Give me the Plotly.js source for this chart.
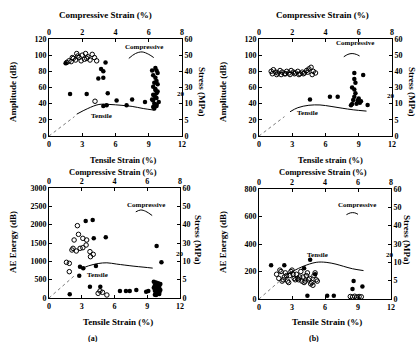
<!DOCTYPE html>
<html><head><meta charset="utf-8">
<script src="https://cdn.plot.ly/plotly-3.0.1.min.js"></script>
<style>html,body{margin:0;padding:0;background:#fff}#c{width:419px;height:342px}</style>
</head><body><div id="c"></div>
<script>
// ---------- data: panel (a) amplitude ----------
const ampA_open_t = [1.6,1.8,2.0,2.2,2.4,2.5,2.7,2.9,3.0,3.2,3.3,3.5,3.7,3.9,4.1,4.3,2.1,2.6,3.4,4.15];
const ampA_open_v = [91,93,92,96,94,102,97,93,100,95,102,98,94,101,97,93,97,99,96,43];
const ampA_fill_t = [1.5,5.1,4.7,4.9,4.45,4.9,1.9,3.4,5.3,4.9,5.2,6.1,7.0,7.5,8.66,
  9.3,9.7,9.6,9.8,9.4,9.7,9.4,9.6,9.7,9.4,9.7,9.3,9.9,9.5,9.7,9.4,9.6,9.8,9.5,9.6,9.8,9.4,9.5,9.7,9.6,9.5];
const ampA_fill_v = [90,91,83,80,71,72,52,52,53,37,38,44,38,45,42,
  81,81,84,78,75,68,61,57,53,51,47,45,42,40,37,36,72,64,50,58,55,44,34,39,48,66];
// ---------- data: panel (b) amplitude ----------
const ampB_open_t = [1.1,1.3,1.5,1.7,1.9,2.1,2.3,2.5,2.7,2.9,3.1,3.3,3.5,3.7,3.9,4.1,4.3,4.5,4.7,4.9,5.1,1.2,1.6,2.0,2.4,2.8,3.2,3.6,4.0,4.4,4.8];
const ampB_open_v = [80,82,79,78,81,79,77,80,78,81,79,78,80,77,79,78,81,83,85,80,78,77,76,76,77,76,77,76,77,79,76];
const ampB_fill_t = [4.6,6.4,7.1,8.6,8.6,8.7,9.4,8.4,8.6,8.7,8.6,8.5,9.0,9.2,8.4,8.8,9.8,8.3,8.9,9.1];
const ampB_fill_v = [45,48.5,48.5,78,70.5,66,75.5,60,57.5,53,48.5,44.5,46.5,43,39.5,40,38.5,38,44,41];
// ---------- data: panel (a) AE energy ----------
const aeA_open_t = [2.6,2.7,2.3,3.1,3.45,3.4,3.1,2.85,2.2,2.1,2.5,1.6,1.86,1.86,3.75,4.05,3.8,4.67,4.9,4.5,5.3];
const aeA_open_v = [1973,1736,1582,1627,1582,1445,1372,1355,1355,1309,1282,973,945,718,1264,1191,1127,191,155,127,82];
const aeA_fill_t = [3.36,4.0,5.2,4.1,2.84,3.14,4.3,2.77,3.75,4.7,1.9,6.5,7.05,7.4,8.9,9.86,10.3,9.1,8.0,
  9.6,9.8,10.0,10.2,9.7,9.9,10.1,9.6,9.8,10.0,10.2,9.7,9.9,10.1,9.8,10.0,9.9,9.7,10.1,9.8];
const aeA_fill_v = [2100,2127,1655,1627,855,809,873,609,309,309,100,191,191,191,173,1418,973,191,218,
  440,420,400,380,350,330,300,280,260,240,220,200,180,160,140,120,100,90,110,80];
// ---------- data: panel (b) AE energy ----------
const aeB_open_t = [1.6,1.8,2.0,2.2,2.4,2.6,2.8,3.0,3.2,3.4,3.6,3.8,4.0,4.2,4.4,4.6,4.8,5.0,5.2,1.9,2.3,2.7,3.1,3.5,3.9,4.3,4.7,5.1,2.1,2.9,3.7,4.5,5.3,2.5,3.3,4.1,4.9,
  8.3,8.5,8.7,8.9,9.1,9.3];
const aeB_open_v = [180,150,200,140,190,130,170,210,150,180,140,200,160,130,190,150,120,170,140,210,160,120,180,150,130,170,110,190,130,200,160,140,130,170,140,120,100,
  18,15,20,14,18,16];
const aeB_fill_t = [1.1,2.3,4.65,4.1,5.1,4.4,6.2,6.8,8.6,9.4,8.5];
const aeB_fill_v = [245,245,286,223,180,24,24,24,131,90,73];
// ---------- stress curves ----------
const leadStrain = [0,0.6,1.2,1.8,2.3];
const leadStress = [0,3,6,9,12];
const tenA1_t = [2.5,3.5,4.5,5.5,6.5,7.5,8.5,9.5];
const tenA1_s = [13.5,17,19.5,19.5,19,18.3,17,16];
const tenB1_t = [2.8,3.5,4.5,5.5,6.5,7.5,8.5,9.7];
const tenB1_s = [15,17.5,19,19.2,18.3,17.2,16.2,15.4];
const tenA2_t = [3.0,3.6,4.5,5.3,6.2,7.7,8.7,9.5];
const tenA2_s = [16,17.5,18.8,19.2,18.5,17.4,16.8,16.3];
const tenB2_t = [2.5,3.2,4.0,5.2,6.1,7.0,7.7,8.5,9.5];
const tenB2_s = [13.3,15.5,17.8,20,20,19,17.8,16.5,15.5];
const comA1_c = [4.8,5.2,5.6,6.0,6.3];
const comA1_s = [48,51,52,50.5,48.5];
const comB1_c = [5.1,5.35,5.6,5.85,6.05];
const comB1_s = [49,50.5,51,50.5,49.5];
const comA2_c = [5.3,5.6,5.9,6.3];
const comA2_s = [47,48,47.3,45];
const comB2_c = [5.3,5.55,5.8,6.0];
const comB2_s = [46,47,47,46.2];
// ---------- tick labels ----------
const tensTicks = [0,3,6,9,12];
const compTicks = [0,2,4,6,8];
const stressVals = [0,10,20,30,40,50,60];
const stressText = ['0','5','10','30','40','50','60'];
const ampTicks = [0,20,40,60,80,100,120];
const aeATicks = [0,500,1000,1500,2000,2500,3000];
const aeBTicks = [0,200,400,600,800];

const F = 'Liberation Serif';
const tf = {family:F, size:8, color:'#000', weight:'bold'};
const W = 419, H = 342;
const px = x => x / W, py = y => 1 - y / H;

const traces = [];
function panel(n, oT, oV, fT, fV, tT, tS, cC, cS) {
  const xb = 'x' + n, xt = 'x' + (n + 1), yl = 'y' + n, yr = 'y' + (n + 1);
  traces.push({x:oT, y:oV, xaxis:xb, yaxis:yl, mode:'markers', type:'scatter',
    marker:{symbol:'circle-open', size:4.5, color:'#000', line:{width:1, color:'#000'}}});
  traces.push({x:fT, y:fV, xaxis:xb, yaxis:yl, mode:'markers', type:'scatter',
    marker:{symbol:'circle', size:4.5, color:'#000'}});
  traces.push({x:leadStrain, y:leadStress, xaxis:xb, yaxis:yr, mode:'lines', type:'scatter',
    line:{color:'#555', width:0.8, dash:'dot'}});
  traces.push({x:tT, y:tS, xaxis:xb, yaxis:yr, mode:'lines', type:'scatter',
    line:{color:'#000', width:1, shape:'spline'}});
  traces.push({x:cC, y:cS, xaxis:xt, yaxis:yr, mode:'lines', type:'scatter',
    line:{color:'#000', width:1, shape:'spline'}});
}
panel(1, ampA_open_t, ampA_open_v, ampA_fill_t, ampA_fill_v, tenA1_t, tenA1_s, comA1_c, comA1_s);
panel(3, ampB_open_t, ampB_open_v, ampB_fill_t, ampB_fill_v, tenB1_t, tenB1_s, comB1_c, comB1_s);
panel(5, aeA_open_t, aeA_open_v, aeA_fill_t, aeA_fill_v, tenA2_t, tenA2_s, comA2_c, comA2_s);
panel(7, aeB_open_t, aeB_open_v, aeB_fill_t, aeB_fill_v, tenB2_t, tenB2_s, comB2_c, comB2_s);

const layout = {width:W, height:H, margin:{l:0,r:0,t:0,b:0}, showlegend:false,
  paper_bgcolor:'#fff', plot_bgcolor:'#fff', annotations:[]};
const common = {showline:true, linecolor:'#000', linewidth:1, showgrid:false, zeroline:false,
  ticks:'inside', ticklen:3, tickcolor:'#000', tickfont:tf};
function axes(n, xd, yd, leftRange, leftTicks) {
  layout['xaxis' + n] = Object.assign({}, common, {domain:xd, anchor:'y' + n, range:[0,12], tickvals:tensTicks});
  layout['xaxis' + (n + 1)] = Object.assign({}, common, {overlaying:'x' + n, side:'top', anchor:'y' + n, range:[0,8], tickvals:compTicks});
  layout['yaxis' + n] = Object.assign({}, common, {domain:yd, anchor:'x' + n, range:leftRange, tickvals:leftTicks});
  layout['yaxis' + (n + 1)] = Object.assign({}, common, {overlaying:'y' + n, side:'right', anchor:'x' + n, range:[0,60],
    tickvals:stressVals, ticktext:stressText});
}
axes(1, [px(49), px(182)], [py(136), py(39)], [0,120], ampTicks);
axes(3, [px(259), px(392)], [py(136), py(39)], [0,120], ampTicks);
axes(5, [px(49), px(180)], [py(298), py(188)], [0,3000], aeATicks);
axes(7, [px(259), px(391)], [py(299), py(189)], [0,800], aeBTicks);

function ann(text, x, y, size, angle) {
  layout.annotations.push({text:text, x:px(x), y:py(y), xref:'paper', yref:'paper', showarrow:false,
    xanchor:'center', yanchor:'middle', textangle:angle || 0, borderpad:0,
    font:{family:F, size:size, color:'#000', weight:'bold'}});
}
// panel a top
ann('Compressive Strain (%)', 106, 15, 9);
ann('Amplitude (dB)', 13, 92, 9, -90);
ann('Stress (MPa)', 202, 92, 9, 90);
ann('Tensile Strain (%)', 123, 160, 8.5);
ann('Compressive', 144, 47, 7);
ann('Tensile', 101, 116, 7);
ann('20', 181, 94, 7);
// panel b top
ann('Compressive Strain (%)', 322, 15, 9);
ann('Amplitude (dB)', 223, 92, 9, -90);
ann('Stress (MPa)', 412, 92, 9, 90);
ann('Tensile strain (%)', 330, 160, 8.5);
ann('Compressive', 355, 43, 7);
ann('Tensile', 307, 113, 7);
ann('20', 391, 96, 7);
// panel a bottom
ann('Compressive Strain (%)', 113, 172, 8.5);
ann('AE Energy (dB)', 13, 242, 9, -90);
ann('Stress (MPa)', 198, 240, 9, 90);
ann('Tensile Strain (%)', 118, 322, 9);
ann('(a)', 93, 338, 8);
ann('Compressive', 146, 205, 7);
ann('Tensile', 97, 275, 7);
ann('20', 180, 254, 7);
// panel b bottom
ann('Compressive Strain (%)', 323, 172, 8.5);
ann('AE Energy (dB)', 223, 242, 9, -90);
ann('Stress (MPa)', 407, 240, 9, 90);
ann('Tensile Strain (%)', 327, 322, 9);
ann('(b)', 314, 338, 8);
ann('Compressive', 357, 205, 7);
ann('Tensile', 317, 255, 7);
ann('20', 390, 255, 7);

Plotly.newPlot('c', traces, layout, {staticPlot:true, displayModeBar:false});
</script></body></html>
